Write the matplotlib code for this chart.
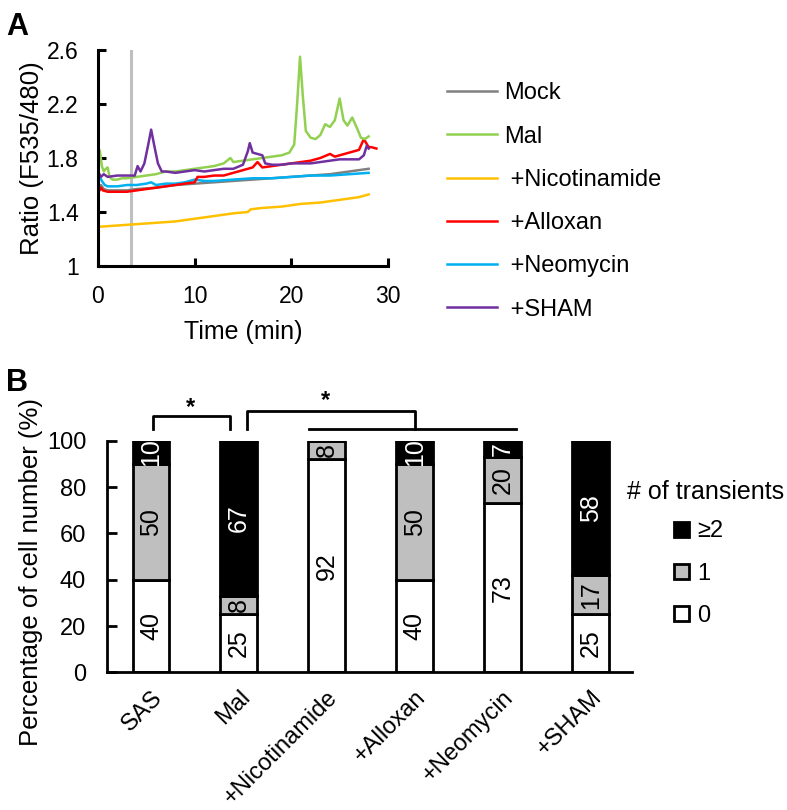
import numpy as np
import matplotlib.pyplot as plt
from matplotlib.patches import Patch

plt.rcParams['font.family'] = ['Liberation Sans', 'DejaVu Sans']

# ---- panel A: ratio traces (time in min, ratio F535/480) ----
mock_t = [0, 0.3, 0.6, 1, 2, 3, 4, 6, 8, 10, 12, 14, 16, 18, 20, 22, 24, 26, 28]
mock_v = [1.58, 1.60, 1.57, 1.56, 1.56, 1.56, 1.57, 1.58, 1.60, 1.61, 1.62, 1.63,
          1.64, 1.65, 1.66, 1.67, 1.68, 1.70, 1.72]

mal_t = [0, 0.2, 0.4, 0.6, 0.8, 1.0, 1.2, 1.5, 2, 2.5, 3, 4, 5, 6, 7, 8, 9, 10, 11,
         12, 13, 13.7, 14, 15, 16, 17, 18, 19, 19.8, 20.3, 20.6, 20.9, 21.2, 21.5,
         22, 22.5, 23, 23.5, 24, 24.5, 25, 25.4, 25.8, 26.3, 26.8, 27.2, 27.6, 28]
mal_v = [1.88, 1.85, 1.74, 1.70, 1.72, 1.73, 1.66, 1.64, 1.64, 1.65, 1.65, 1.66,
         1.67, 1.68, 1.70, 1.70, 1.71, 1.72, 1.73, 1.74, 1.76, 1.80, 1.77, 1.78,
         1.79, 1.80, 1.81, 1.82, 1.84, 1.90, 2.20, 2.55, 2.25, 2.00, 1.95, 1.94,
         1.97, 2.05, 2.03, 2.08, 2.24, 2.08, 2.04, 2.10, 2.02, 1.95, 1.94, 1.96]

nic_t = [0, 2, 4, 6, 8, 10, 12, 14, 15.5, 15.8, 17, 19, 21, 23, 25, 27, 28]
nic_v = [1.29, 1.30, 1.31, 1.32, 1.33, 1.35, 1.37, 1.39, 1.40, 1.42, 1.43, 1.44,
         1.46, 1.47, 1.49, 1.51, 1.53]

allox_t = [0, 0.3, 0.5, 1, 2, 3, 4, 5, 6, 7, 8, 9, 10, 10.3, 11, 12, 13, 14, 15,
           16, 16.5, 17, 18, 19, 20, 21, 22, 23, 24, 24.5, 25, 26, 27, 27.5, 28,
           28.3, 28.8]
allox_v = [1.54, 1.58, 1.56, 1.55, 1.55, 1.55, 1.56, 1.57, 1.58, 1.59, 1.60, 1.61,
           1.62, 1.66, 1.66, 1.67, 1.67, 1.69, 1.71, 1.73, 1.77, 1.73, 1.74, 1.75,
           1.76, 1.77, 1.78, 1.80, 1.83, 1.81, 1.82, 1.84, 1.86, 1.94, 1.88, 1.88,
           1.87]

neo_t = [0, 0.2, 0.4, 0.7, 1, 2, 3, 4, 5, 5.5, 6, 7, 8, 9, 10, 11, 12, 14, 16, 18,
         20, 22, 24, 26, 28]
neo_v = [1.62, 1.66, 1.63, 1.60, 1.59, 1.59, 1.60, 1.60, 1.61, 1.62, 1.60, 1.61,
         1.61, 1.62, 1.64, 1.63, 1.63, 1.64, 1.65, 1.65, 1.66, 1.67, 1.67, 1.68,
         1.69]

sham_t = [0, 0.3, 0.6, 1, 2, 3, 3.8, 4.1, 4.4, 4.8, 5.2, 5.5, 5.8, 6.2, 6.6, 7, 8,
          9, 10, 11, 12, 13, 14, 15, 15.5, 15.7, 16, 16.5, 17, 17.3, 18, 19, 20,
          21, 22, 23, 24, 25, 26, 27, 27.5, 27.8, 28]
sham_v = [1.70, 1.66, 1.68, 1.66, 1.67, 1.67, 1.67, 1.74, 1.70, 1.76, 1.90, 2.01,
          1.90, 1.76, 1.70, 1.70, 1.69, 1.70, 1.71, 1.70, 1.71, 1.72, 1.72, 1.75,
          1.85, 1.91, 1.84, 1.83, 1.82, 1.76, 1.75, 1.75, 1.76, 1.76, 1.76, 1.77,
          1.78, 1.79, 1.79, 1.79, 1.82, 1.89, 1.87]

treat_time = 3.4

# ---- panel B: percentage of cells by number of transients ----
groups = ['SAS', 'Mal', '+Nicotinamide', '+Alloxan', '+Neomycin', '+SHAM']
pct_0 = [40, 25, 92, 40, 73, 25]
pct_1 = [50, 8, 8, 50, 20, 17]
pct_2 = [10, 67, 0, 10, 7, 58]

fig = plt.figure(figsize=(7.87, 8.10), dpi=100)

# ================= A =================
ax = fig.add_axes([0.1245, 0.6716, 0.3685, 0.2667])
ax.axvline(treat_time, color='#bfbfbf', lw=2.2, zorder=1)
ax.plot(mock_t, mock_v, color='#808080', lw=1.8, label='Mock')
ax.plot(nic_t, nic_v, color='#ffc000', lw=1.8, label=' +Nicotinamide')
ax.plot(neo_t, neo_v, color='#00b0f0', lw=1.8, label=' +Neomycin')
ax.plot(allox_t, allox_v, color='#ff0000', lw=1.8, label=' +Alloxan')
ax.plot(mal_t, mal_v, color='#92d050', lw=1.8, label='Mal')
ax.plot(sham_t, sham_v, color='#7030a0', lw=1.8, label=' +SHAM')

ax.set_xlim(0, 30)
ax.set_ylim(1, 2.6)
ax.set_xticks([0, 10, 20, 30])
ax.set_yticks([1, 1.4, 1.8, 2.2, 2.6])
ax.set_yticklabels(['1', '1.4', '1.8', '2.2', '2.6'])
ax.spines[['top', 'right']].set_visible(False)
for s in ['left', 'bottom']:
    ax.spines[s].set_linewidth(2.2)
ax.tick_params(direction='in', length=6, width=2.2, labelsize=16.5, pad=14)
ax.set_xlabel('Time (min)', fontsize=18, labelpad=8)
ax.set_ylabel('Ratio (F535/480)', fontsize=18.5, labelpad=2)

handles, labels = ax.get_legend_handles_labels()
order = ['Mock', 'Mal', ' +Nicotinamide', ' +Alloxan', ' +Neomycin', ' +SHAM']
hmap = dict(zip(labels, handles))
fig.legend([hmap[k] for k in order], order, loc='upper left',
           bbox_to_anchor=(0.553, 0.913), frameon=False, fontsize=17,
           handlelength=2.1, handletextpad=0.3, labelspacing=0.9, borderpad=0)

fig.text(0.008, 0.985, 'A', fontsize=22, fontweight='bold', va='top')

# ================= B =================
bx = fig.add_axes([0.136, 0.170, 0.667, 0.2856])
x = np.arange(len(groups))
w = 0.42
b0 = bx.bar(x, pct_0, w, color='white', edgecolor='black', lw=2)
b1 = bx.bar(x, pct_1, w, bottom=pct_0, color='#bfbfbf', edgecolor='black', lw=2)
bot2 = [a + b for a, b in zip(pct_0, pct_1)]
b2 = bx.bar(x, pct_2, w, bottom=bot2, color='black', edgecolor='black', lw=2)

for cont, vals, col in [(b0, pct_0, 'black'), (b1, pct_1, 'black'), (b2, pct_2, 'white')]:
    bx.bar_label(cont, labels=[str(v) if v > 0 else '' for v in vals],
                 label_type='center', rotation=90, color=col, fontsize=18)

bx.set_xlim(-0.5, 5.47)
bx.set_ylim(0, 100)
bx.set_yticks(range(0, 101, 20))
bx.set_xticks(x)
bx.set_xticklabels(groups, rotation=45, ha='right', rotation_mode='anchor', fontsize=17)
bx.spines[['top', 'right']].set_visible(False)
for s in ['left', 'bottom']:
    bx.spines[s].set_linewidth(2)
bx.tick_params(axis='y', direction='in', length=7, width=2, labelsize=17, pad=15)
bx.tick_params(axis='x', length=0, pad=10)
bx.set_ylabel('Percentage of cell number (%)', fontsize=18.5)
bx.yaxis.set_label_coords(-0.122, 0.433)

# significance brackets
kw = dict(color='black', lw=2, clip_on=False)
bx.plot([0.02, 0.02, 0.9, 0.9], [105, 111, 111, 105], **kw)
bx.text(0.45, 114.3, '*', ha='center', va='center', fontsize=17, fontweight='bold')
bx.plot([1.09, 1.09, 3.0, 3.0], [105, 113, 113, 105], **kw)
bx.plot([1.8, 4.15], [105, 105], **kw)
bx.text(1.99, 117.7, '*', ha='center', va='center', fontsize=17, fontweight='bold')

leg_h = [Patch(facecolor='black', edgecolor='black', lw=2),
         Patch(facecolor='#bfbfbf', edgecolor='black', lw=2),
         Patch(facecolor='white', edgecolor='black', lw=2)]
fig.legend(leg_h, ['\u22652', '1', '0'], loc='upper left',
           bbox_to_anchor=(0.842, 0.372), frameon=False, fontsize=17,
           handlelength=0.6, handleheight=0.6, handletextpad=0.35,
           labelspacing=0.85, borderpad=0)
fig.text(0.797, 0.393, '# of transients', fontsize=18, va='center')

fig.text(0.008, 0.527, 'B', fontsize=22, fontweight='bold', va='center')

fig.savefig('out.png', dpi=100)
